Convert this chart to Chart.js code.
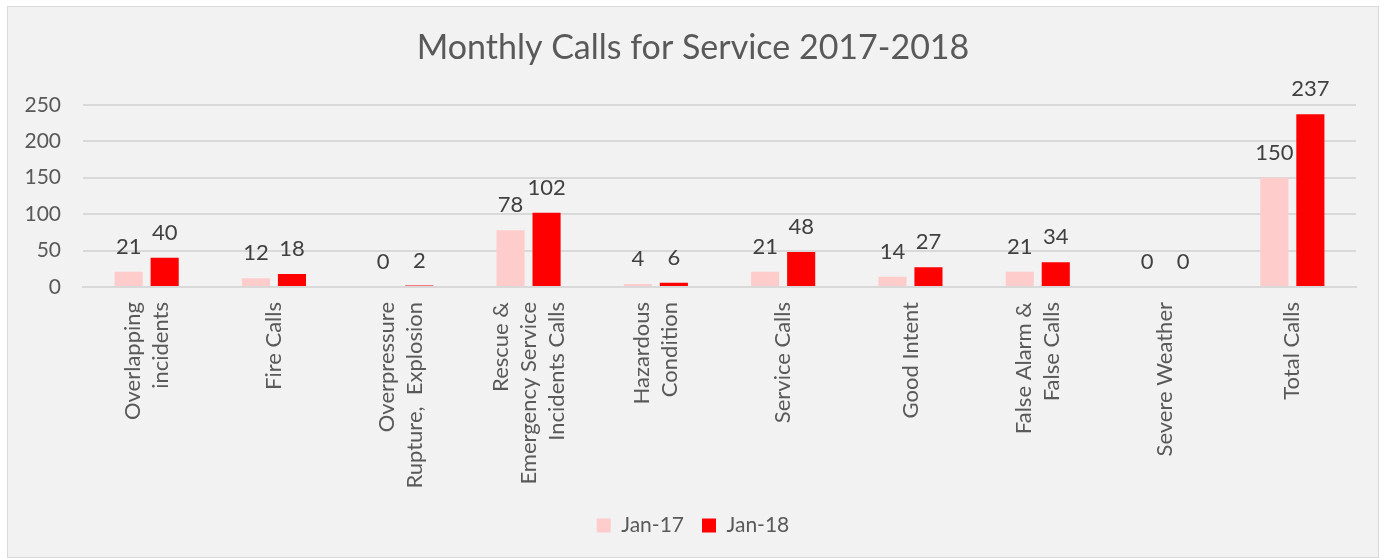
<!DOCTYPE html>
<html>
<head>
<meta charset="utf-8">
<script src="https://cdn.jsdelivr.net/npm/chart.js@4"></script>
<style>
  html, body { margin: 0; padding: 0; background: #ffffff; }
  #wrap { width: 1386px; height: 560px; }
</style>
</head>
<body>
<div id="wrap"><canvas id="myChart" width="1386" height="560"></canvas></div>
<script>
var categories = [
  ['Overlapping', 'incidents'],
  ['Fire Calls'],
  ['Overpressure', 'Rupture,  Explosion'],
  ['Rescue &', 'Emergency Service', 'Incidents Calls'],
  ['Hazardous', 'Condition'],
  ['Service Calls'],
  ['Good Intent'],
  ['False Alarm &', 'False Calls'],
  ['Severe Weather'],
  ['Total Calls']
];
var jan17 = [21, 12, 0, 78, 4, 21, 14, 21, 0, 150];
var jan18 = [40, 18, 2, 102, 6, 48, 27, 34, 0, 237];
var seriesNames = ['Jan-17', 'Jan-18'];

var FONT = 'Lato, Carlito, Calibri, sans-serif';

// paints the grey panel with its thin border
var panelPlugin = {
  id: 'panel',
  beforeDraw: function(chart) {
    var c = chart.ctx;
    c.save();
    c.fillStyle = '#ffffff';
    c.fillRect(0, 0, chart.width, chart.height);
    c.fillStyle = '#f2f2f2';
    c.fillRect(7, 6, chart.width - 14, chart.height - 8);
    c.strokeStyle = '#d9d9d9';
    c.lineWidth = 1;
    c.strokeRect(7.5, 6.5, chart.width - 15, chart.height - 9);
    c.restore();
  }
};

// value labels above each bar
var valuePlugin = {
  id: 'values',
  afterDatasetsDraw: function(chart) {
    var c = chart.ctx;
    c.save();
    c.font = '22px ' + FONT;
    c.fillStyle = '#404040';
    c.textAlign = 'center';
    c.textBaseline = 'alphabetic';
    chart.data.datasets.forEach(function(ds, i) {
      var meta = chart.getDatasetMeta(i);
      meta.data.forEach(function(bar, j) {
        c.fillText(String(ds.data[j]), bar.x, bar.y - 18);
      });
    });
    c.restore();
  }
};

// rotated category labels, each block centred on its tick
var catLabelPlugin = {
  id: 'catLabels',
  afterDraw: function(chart) {
    var c = chart.ctx;
    var xs = chart.scales.x;
    var lh = 28;
    c.save();
    c.font = '22px ' + FONT;
    c.fillStyle = '#595959';
    c.textAlign = 'right';
    c.textBaseline = 'middle';
    chart.data.labels.forEach(function(lines, i) {
      var px = xs.getPixelForValue(i);
      c.save();
      c.translate(px, xs.top + 15);
      c.rotate(-Math.PI / 2);
      lines.forEach(function(line, k) {
        c.fillText(line, 0, (k - (lines.length - 1) / 2) * lh);
      });
      c.restore();
    });
    c.restore();
  }
};

var ctx = document.getElementById('myChart');
var myChart = new Chart(ctx, {
  type: 'bar',
  data: {
    labels: categories,
    datasets: [{
      label: seriesNames[0],
      data: jan17,
      backgroundColor: '#ffcccc',
      barPercentage: 0.78,
      categoryPercentage: 0.566
    }, {
      label: seriesNames[1],
      data: jan18,
      backgroundColor: '#ff0000',
      barPercentage: 0.78,
      categoryPercentage: 0.566
    }]
  },
  plugins: [panelPlugin, valuePlugin, catLabelPlugin],
  options: {
    responsive: false,
    animation: false,
    layout: { padding: { left: 7, right: 7, top: 20, bottom: 14 } },
    plugins: {
      title: {
        display: true,
        text: 'Monthly Calls for Service 2017-2018',
        color: '#595959',
        font: { family: FONT, size: 34, weight: 'normal' },
        padding: { top: 8, bottom: 36 }
      },
      legend: {
        position: 'bottom',
        labels: {
          color: '#595959',
          font: { family: FONT, size: 21 },
          boxWidth: 14,
          boxHeight: 14,
          padding: 18
        }
      },
      tooltip: { enabled: false }
    },
    scales: {
      x: {
        grid: { display: false, drawTicks: false },
        border: { display: true, color: '#d9d9d9', width: 2 },
        ticks: { display: false },
        afterFit: function(scale) { scale.height = 210; }
      },
      y: {
        min: 0,
        max: 250,
        grid: { color: '#d9d9d9', lineWidth: 2, drawTicks: false },
        border: { display: false },
        ticks: {
          stepSize: 50,
          color: '#595959',
          font: { family: FONT, size: 21 },
          padding: 22
        },
        afterFit: function(scale) { scale.width = 76; }
      },
      // empty spacer on the right so the plot ends where the original does
      yRight: {
        position: 'right',
        min: 0,
        max: 250,
        grid: { display: false },
        border: { display: false },
        ticks: { display: false },
        afterFit: function(scale) { scale.width = 23; }
      }
    }
  }
});
</script>
</body>
</html>
